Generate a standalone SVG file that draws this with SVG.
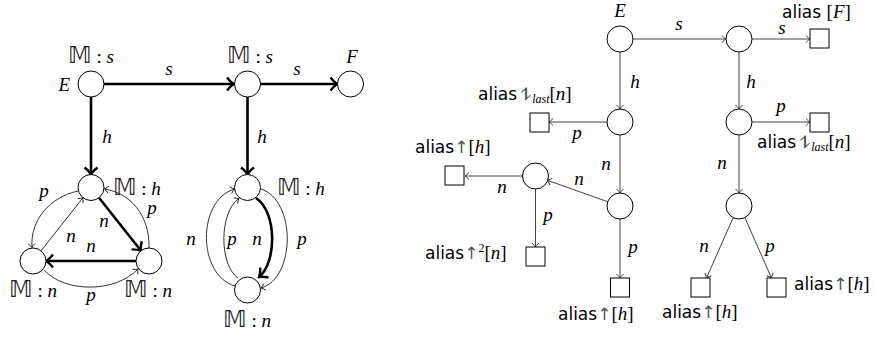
<svg xmlns="http://www.w3.org/2000/svg" width="875" height="338" viewBox="0 0 875 338">
<style>
.nd{fill:#fff;stroke:#000;stroke-width:1}
.sq{fill:#fff;stroke:#000;stroke-width:1}
.th{stroke:#000;stroke-width:2.6;fill:none}
.tn{stroke:#000;stroke-width:0.8;fill:none}
.gr{stroke:#444;stroke-width:1;fill:none}
.m{font-family:"Liberation Serif","DejaVu Serif",serif;font-style:italic;font-size:19px;fill:#000}
.rm{font-family:"Liberation Serif","DejaVu Serif",serif;font-style:normal;font-size:19px;fill:#000}
.bb{font-family:"DejaVu Sans",sans-serif;font-style:normal;font-size:23px;fill:#222}
.sf{font-family:"DejaVu Sans",sans-serif;font-size:17px;fill:#000}
.ar{font-family:"DejaVu Sans",sans-serif;font-style:normal;fill:#555;font-size:17px}
.sub{font-size:12px}
</style>
<defs>
<marker id="ak" markerUnits="userSpaceOnUse" viewBox="-10 -8 12 16" refX="0" refY="0" markerWidth="12" markerHeight="16" orient="auto"><path d="M-7,-6.5 Q-3,-1.5 0,0 Q-3,1.5 -7,6.5" fill="none" stroke="#000" stroke-width="2.4"/></marker>
<marker id="at" markerUnits="userSpaceOnUse" viewBox="-6 -5 7 10" refX="0" refY="0" markerWidth="7" markerHeight="10" orient="auto"><path d="M-4,-3.5 Q-1.5,-0.8 0,0 Q-1.5,0.8 -4,3.5" fill="none" stroke="#000" stroke-width="0.8"/></marker>
<marker id="ag" markerUnits="userSpaceOnUse" viewBox="-6 -5 7 10" refX="0" refY="0" markerWidth="7" markerHeight="10" orient="auto"><path d="M-4,-3.5 Q-1.5,-0.8 0,0 Q-1.5,0.8 -4,3.5" fill="none" stroke="#444" stroke-width="1"/></marker>
</defs>

<g id="connectors">
<path class="th" d="M104,84 L234,84" marker-end="url(#ak)"/>
<path class="th" d="M260.5,84 L337.5,84" marker-end="url(#ak)"/>
<path class="th" d="M91,97 L91,174.5" marker-end="url(#ak)"/>
<path class="th" d="M247.5,97 L247.5,174.5" marker-end="url(#ak)"/>
<path class="th" d="M99,197.7 L141,250.8" marker-end="url(#ak)"/>
<path class="th" d="M136,261 L46,261" marker-end="url(#ak)"/>
<path class="tn" d="M41,250.8 L83,197.7" marker-end="url(#at)"/>
<path class="tn" d="M78,191 C50,197 30,220 32,247.5" marker-end="url(#at)"/>
<path class="tn" d="M149,248 C150,215 130,193 104.5,189" marker-end="url(#at)"/>
<path class="tn" d="M44,270 C65,293 115,293 138,269" marker-end="url(#at)"/>
<path class="tn" d="M235,286 C197,275 197,200 234.5,189" marker-end="url(#at)"/>
<path class="tn" d="M238,278 C219,265 219,212 239,198.5" marker-end="url(#at)"/>
<path class="th" d="M256,198 C277,212 277,262 259,277" marker-end="url(#ak)"/>
<path class="tn" d="M261,189 C296,200 296,278 261,288" marker-end="url(#at)"/>
<path class="gr" d="M633,39 L726,39" marker-end="url(#ag)"/>
<path class="gr" d="M752,39 L810,39" marker-end="url(#ag)"/>
<path class="gr" d="M620,52 L620,109" marker-end="url(#ag)"/>
<path class="gr" d="M739,52 L739,109" marker-end="url(#ag)"/>
<path class="gr" d="M607,122 L549,122" marker-end="url(#ag)"/>
<path class="gr" d="M752,122 L810,122" marker-end="url(#ag)"/>
<path class="gr" d="M620,135 L620,193" marker-end="url(#ag)"/>
<path class="gr" d="M739,135 L739,193" marker-end="url(#ag)"/>
<path class="gr" d="M607.7,201.7 L547.3,180.3" marker-end="url(#ag)"/>
<path class="gr" d="M522,176 L465,176" marker-end="url(#ag)"/>
<path class="gr" d="M535.5,189 L535.5,247" marker-end="url(#ag)"/>
<path class="gr" d="M620,219 L620,278" marker-end="url(#ag)"/>
<path class="gr" d="M733,218 L706.5,278" marker-end="url(#ag)"/>
<path class="gr" d="M745,218 L771.5,278" marker-end="url(#ag)"/>
</g>

<g id="edge-labels">
<text class="m" x="169" y="75" text-anchor="middle">s</text>
<text class="m" x="297" y="75" text-anchor="middle">s</text>
<text class="m" x="107" y="143" text-anchor="middle">h</text>
<text class="m" x="262" y="143" text-anchor="middle">h</text>
<text class="m" x="104" y="227" text-anchor="middle">n</text>
<text class="m" x="91" y="252" text-anchor="middle">n</text>
<text class="m" x="71" y="242" text-anchor="middle">n</text>
<text class="m" x="44" y="197" text-anchor="middle">p</text>
<text class="m" x="152" y="214" text-anchor="middle">p</text>
<text class="m" x="91" y="301" text-anchor="middle">p</text>
<text class="m" x="191" y="245" text-anchor="middle">n</text>
<text class="m" x="232" y="245" text-anchor="middle">p</text>
<text class="m" x="257" y="245" text-anchor="middle">n</text>
<text class="m" x="302" y="245" text-anchor="middle">p</text>
<text class="m" x="679" y="30" text-anchor="middle">s</text>
<text class="m" x="782" y="34" text-anchor="middle">s</text>
<text class="m" x="635" y="88" text-anchor="middle">h</text>
<text class="m" x="751" y="88" text-anchor="middle">h</text>
<text class="m" x="577" y="139" text-anchor="middle">p</text>
<text class="m" x="781" y="112" text-anchor="middle">p</text>
<text class="m" x="606" y="170" text-anchor="middle">n</text>
<text class="m" x="722" y="169" text-anchor="middle">n</text>
<text class="m" x="579" y="185" text-anchor="middle">n</text>
<text class="m" x="502" y="193" text-anchor="middle">n</text>
<text class="m" x="548" y="221" text-anchor="middle">p</text>
<text class="m" x="633" y="253" text-anchor="middle">p</text>
<text class="m" x="704" y="252" text-anchor="middle">n</text>
<text class="m" x="770" y="252" text-anchor="middle">p</text>
</g>

<g id="nE">
<circle class="nd" cx="91" cy="84" r="13"/>
<text class="m" x="91" y="63" text-anchor="middle"><tspan class="bb">𝕄</tspan><tspan class="rm"> : </tspan>s</text>
<text class="m" x="70" y="91" text-anchor="end">E</text>
</g>
<g id="nMs">
<circle class="nd" cx="247.5" cy="84" r="13"/>
<text class="m" x="250" y="63" text-anchor="middle"><tspan class="bb">𝕄</tspan><tspan class="rm"> : </tspan>s</text>
</g>
<g id="nF">
<circle class="nd" cx="350.5" cy="84" r="13"/>
<text class="m" x="352" y="63" text-anchor="middle">F</text>
</g>
<g id="nMh1">
<circle class="nd" cx="91" cy="187.5" r="13"/>
<text class="m" x="113" y="195"><tspan class="bb">𝕄</tspan><tspan class="rm"> : </tspan>h</text>
</g>
<g id="nBL">
<circle class="nd" cx="33" cy="261" r="13"/>
<text class="m" x="33" y="297" text-anchor="middle"><tspan class="bb">𝕄</tspan><tspan class="rm"> : </tspan>n</text>
</g>
<g id="nBR">
<circle class="nd" cx="149" cy="261" r="13"/>
<text class="m" x="148" y="297" text-anchor="middle"><tspan class="bb">𝕄</tspan><tspan class="rm"> : </tspan>n</text>
</g>
<g id="nMh2">
<circle class="nd" cx="247.5" cy="187.5" r="13"/>
<text class="m" x="277" y="195"><tspan class="bb">𝕄</tspan><tspan class="rm"> : </tspan>h</text>
</g>
<g id="nMn2">
<circle class="nd" cx="247.5" cy="290" r="13"/>
<text class="m" x="247" y="327" text-anchor="middle"><tspan class="bb">𝕄</tspan><tspan class="rm"> : </tspan>n</text>
</g>

<g id="rE">
<circle class="nd" cx="620" cy="39" r="13"/>
<text class="m" x="620" y="17" text-anchor="middle">E</text>
</g>
<g id="rA"><circle class="nd" cx="739" cy="39" r="13"/></g>
<g id="rB"><circle class="nd" cx="620" cy="122" r="13"/></g>
<g id="rC"><circle class="nd" cx="739" cy="122" r="13"/></g>
<g id="rD"><circle class="nd" cx="620" cy="206" r="13"/></g>
<g id="rG"><circle class="nd" cx="535.5" cy="176" r="13"/></g>
<g id="rH"><circle class="nd" cx="739" cy="206" r="13"/></g>

<g id="sqF">
<rect class="sq" x="810" y="29" width="19" height="19"/>
<text class="sf" x="782" y="17.5">alias <tspan class="rm">[</tspan><tspan class="m">F</tspan><tspan class="rm">]</tspan></text>
</g>
<g id="sq1">
<rect class="sq" x="530" y="113" width="19" height="19"/>
<text class="sf" x="478" y="100">alias<tspan class="ar" dx="3">⥮</tspan><tspan class="m sub" dy="3">last</tspan><tspan class="rm" dy="-3">[</tspan><tspan class="m">n</tspan><tspan class="rm">]</tspan></text>
</g>
<g id="sq2">
<rect class="sq" x="810" y="113" width="19" height="19"/>
<text class="sf" x="757" y="148">alias<tspan class="ar" dx="3">⥮</tspan><tspan class="m sub" dy="3">last</tspan><tspan class="rm" dy="-3">[</tspan><tspan class="m">n</tspan><tspan class="rm">]</tspan></text>
</g>
<g id="sq3">
<rect class="sq" x="445" y="166" width="19" height="19"/>
<text class="sf" x="415" y="153">alias<tspan class="ar">↑</tspan><tspan class="rm">[</tspan><tspan class="m">h</tspan><tspan class="rm">]</tspan></text>
</g>
<g id="sq4">
<rect class="sq" x="526" y="247" width="19" height="19"/>
<text class="sf" x="425" y="259">alias<tspan class="ar">↑</tspan><tspan class="rm sub" dy="-7">2</tspan><tspan class="rm" dy="7">[</tspan><tspan class="m">n</tspan><tspan class="rm">]</tspan></text>
</g>
<g id="sq5">
<rect class="sq" x="610.5" y="278" width="19" height="19"/>
<text class="sf" x="558" y="320">alias<tspan class="ar">↑</tspan><tspan class="rm">[</tspan><tspan class="m">h</tspan><tspan class="rm">]</tspan></text>
</g>
<g id="sq6">
<rect class="sq" x="691" y="278" width="19" height="19"/>
<text class="sf" x="662" y="318">alias<tspan class="ar">↑</tspan><tspan class="rm">[</tspan><tspan class="m">h</tspan><tspan class="rm">]</tspan></text>
</g>
<g id="sq7">
<rect class="sq" x="767" y="278" width="19" height="19"/>
<text class="sf" x="794" y="290">alias<tspan class="ar">↑</tspan><tspan class="rm">[</tspan><tspan class="m">h</tspan><tspan class="rm">]</tspan></text>
</g>
</svg>
